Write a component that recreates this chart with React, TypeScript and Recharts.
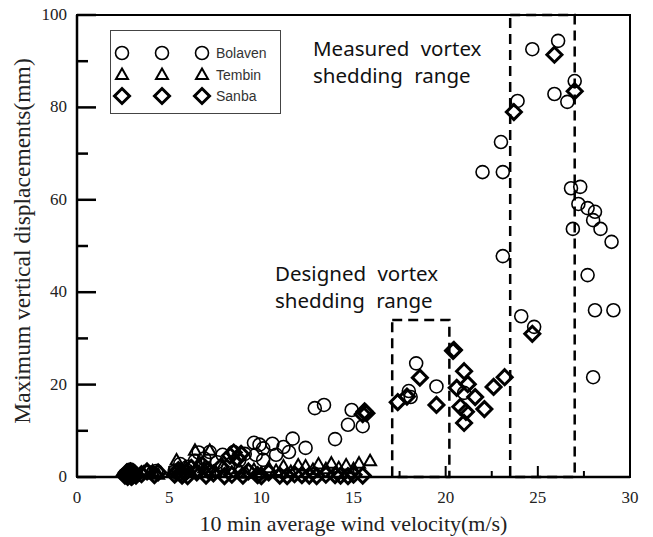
import React from 'react';
import {
  ScatterChart, Scatter, XAxis, YAxis, ReferenceArea, Legend,
} from 'recharts';

// wind velocity (m/s), max vertical displacement (mm)
const bolaven: [number, number][] = [
  [2.6, 0.5], [2.7, 0.8], [2.9, 1.6], [3.0, 1.2], [3.4, 0.5], [3.9, 1.0], [4.3, 1.3],
  [5.3, 1.2], [5.6, 2.8], [6.0, 2.2], [6.4, 3.5], [6.6, 5.3],
  [6.9, 4.0], [7.2, 5.4], [7.6, 3.2], [7.9, 4.8], [8.2, 2.0],
  [8.5, 5.4], [8.8, 3.6], [9.1, 5.0], [9.6, 7.4], [9.7, 4.8],
  [9.9, 7.0], [10.1, 6.2], [10.1, 3.7], [10.6, 7.2], [10.8, 4.8],
  [11.2, 6.5], [11.5, 5.4], [11.7, 8.3], [12.4, 6.3],
  [12.9, 14.9], [13.4, 15.6], [14.0, 8.2], [14.7, 11.3], [14.9, 14.5],
  [15.5, 11.0], [18.1, 17.3], [18.0, 18.6], [18.4, 24.6], [19.5, 19.6],
  [21.0, 18.2], [22.0, 66.0], [23.1, 66.0], [23.0, 72.5], [23.1, 47.8],
  [23.9, 81.4], [24.7, 92.6], [26.1, 94.4], [25.9, 82.9], [26.6, 81.2],
  [27.0, 85.7], [26.8, 62.5], [27.3, 62.8], [27.2, 59.1], [27.7, 58.2],
  [28.1, 57.4], [28.0, 55.6], [28.4, 53.7], [26.9, 53.7], [29.0, 50.9],
  [27.7, 43.7], [24.1, 34.8], [24.8, 32.5], [28.1, 36.1], [29.1, 36.1],
  [28.0, 21.6],
];

const tembin: [number, number][] = [
  [2.8, 0.3], [3.0, 0.6], [3.6, 1.0], [3.9, 0.8], [4.1, 1.3], [4.4, 0.6],
  [5.4, 3.7], [5.6, 1.5], [5.9, 2.2], [6.2, 1.0], [6.4, 5.8], [6.6, 3.0],
  [6.9, 2.0], [7.2, 5.8], [7.5, 1.3], [7.9, 2.4], [8.4, 1.0], [8.8, 1.8],
  [9.2, 0.8], [9.6, 1.6], [10.0, 0.8], [10.4, 2.0], [10.8, 1.4], [11.2, 2.4],
  [11.6, 1.2], [12.0, 2.6], [12.4, 2.4], [12.8, 1.6], [13.1, 2.8], [13.5, 1.8],
  [13.8, 3.0], [14.2, 2.0], [14.6, 2.6], [15.0, 1.8], [15.3, 3.0], [15.9, 3.5],
];

const sanba: [number, number][] = [
  [2.6, 0.3], [2.65, 0.6], [2.7, 1.0], [2.8, 0.5], [2.85, 0.9], [2.9, 1.2],
  [2.95, 0.0], [3.0, 0.2], [3.05, 0.5], [3.1, 0.8], [3.2, 0.3],
  [2.75, 0.0], [3.5, 0.6], [3.8, 1.2], [4.2, 0.4], [4.4, 1.0], [5.3, 0.5],
  [5.4, 1.0], [5.5, 1.5], [5.6, 0.8], [5.7, 0.3], [5.9, 1.0], [6.0, 0.2],
  [6.2, 2.0], [6.5, 1.0], [6.8, 2.6], [7.0, 0.3],
  [7.1, 1.5], [7.4, 0.8], [7.8, 2.2], [8.0, 0.2], [8.3, 4.6], [8.5, 5.3], [8.7, 4.0],
  [8.9, 5.0], [8.4, 0.5], [9.0, 0.3], [9.3, 1.2], [9.8, 0.4], [10.0, 0.2],
  [10.4, 1.0], [11.0, 0.3], [11.4, 0.2], [11.8, 0.6], [12.2, 0.4], [12.6, 0.3],
  [13.0, 0.2], [13.5, 0.5], [14.0, 0.4], [14.3, 0.3], [14.7, 0.2], [15.0, 0.5],
  [15.5, 0.3],
  [15.5, 13.6], [15.6, 14.2], [15.7, 13.8],
  [17.4, 16.2], [17.9, 17.4], [18.6, 21.5], [19.5, 15.6], [20.4, 27.3],
  [20.45, 27.5], [21.0, 22.9], [20.6, 19.3], [21.2, 20.1], [21.6, 17.3],
  [20.8, 15.2], [21.1, 14.1], [21.0, 11.7], [22.1, 14.7], [22.6, 19.5],
  [23.2, 21.6], [24.7, 31.0], [23.7, 79.0], [25.9, 91.4], [27.0, 83.5],
];

const seriesOrder = ['Bolaven', 'Tembin', 'Sanba'];

// designed / measured vortex shedding ranges: [x1, x2, yTop]
const designedRange = [17.1, 20.2, 34];
const measuredRange = [23.5, 27.0, 100];

const xTicks = [0, 2.5, 5, 7.5, 10, 12.5, 15, 17.5, 20, 22.5, 25, 27.5, 30];
const yTicks = [0, 10, 20, 30, 40, 50, 60, 70, 80, 90, 100];

const toPts = (arr: [number, number][]) => arr.map(([x, y]) => ({ x, y }));

const serif = '"Liberation Serif", "Times New Roman", serif';

const CircleMark = (p: any) => (
  <circle cx={p.cx} cy={p.cy} r={6.5} fill="none" stroke="#000" strokeWidth={1.6} />
);
const TriangleMark = (p: any) => (
  <path
    d={`M${p.cx},${p.cy - 6}L${p.cx + 6},${p.cy + 4.5}L${p.cx - 6},${p.cy + 4.5}Z`}
    fill="none" stroke="#000" strokeWidth={2} strokeLinejoin="miter"
  />
);
const DiamondMark = (p: any) => (
  <path
    d={`M${p.cx},${p.cy - 7.5}L${p.cx + 7.5},${p.cy}L${p.cx},${p.cy + 7.5}L${p.cx - 7.5},${p.cy}Z`}
    fill="none" stroke="#000" strokeWidth={3} strokeLinejoin="miter"
  />
);

const markFor: Record<string, (p: any) => React.ReactElement> = {
  Bolaven: CircleMark,
  Tembin: TriangleMark,
  Sanba: DiamondMark,
};

// inward ticks, labels only on major values
const XTick = (p: any) => {
  const v = p.payload.value;
  const major = v % 5 === 0;
  return (
    <g>
      <line x1={p.x} y1={p.y} x2={p.x} y2={p.y - (major ? 11 : 6)} stroke="#000" strokeWidth={2} />
      {major && (
        <text x={p.x} y={p.y + 26} textAnchor="middle" fontFamily={serif} fontSize={17} fill="#222">
          {v}
        </text>
      )}
    </g>
  );
};

const YTick = (p: any) => {
  const v = p.payload.value;
  const major = v % 20 === 0;
  return (
    <g>
      <line x1={p.x} y1={p.y} x2={p.x + (major ? 19 : 11)} y2={p.y} stroke="#000" strokeWidth={2.5} />
      {major && (
        <text x={p.x - 10} y={p.y + 5} textAnchor="end" fontFamily={serif} fontSize={17} fill="#222">
          {v}
        </text>
      )}
    </g>
  );
};

const LegendBox = (props: any) => {
  const items = [...(props.payload || [])].sort(
    (a: any, b: any) => seriesOrder.indexOf(a.value) - seriesOrder.indexOf(b.value),
  );
  return (
    <svg width={172} height={85} style={{ display: 'block' }}>
      <rect x={0.5} y={0.5} width={170} height={83} fill="#fff" stroke="#444" strokeWidth={1} />
      {items.map((it: any, i: number) => {
        const Mark = markFor[it.value];
        const cy = 23 + i * 21.5;
        return (
          <g key={it.value}>
            {[12, 52, 92].map((cx) => <Mark key={cx} cx={cx} cy={cy} />)}
            <text x={106} y={cy + 5} fontFamily='"Liberation Sans", Arial, sans-serif'
              fontSize={14} fill="#333">{it.value}</text>
          </g>
        );
      })}
    </svg>
  );
};

const noteStyle: React.CSSProperties = {
  position: 'absolute',
  fontFamily: '"Noto Sans", sans-serif',
  fontSize: 20.5,
  lineHeight: '27px',
  color: '#111',
  wordSpacing: 6,
  whiteSpace: 'pre',
};

export default function App() {
  return (
    <div style={{ position: 'absolute', left: 0, top: 0, width: 653, height: 537, background: '#fff' }}>
      <ScatterChart width={653} height={537} margin={{ top: 15, right: 23, bottom: 6, left: 11 }}>
        <XAxis
          type="number" dataKey="x" domain={[0, 30]} ticks={xTicks} interval={0}
          tickSize={0} tickMargin={0} tickLine={false} tick={<XTick />} height={54}
          axisLine={{ stroke: '#000', strokeWidth: 2.5 }}
          label={{ value: '10 min average wind velocity(m/s)', position: 'insideBottom', offset: 0,
            style: { fontFamily: serif, fontSize: 22, fill: '#222' } }}
        />
        <YAxis
          type="number" dataKey="y" domain={[0, 100]} ticks={yTicks} interval={0}
          tickSize={0} tickMargin={0} tickLine={false} tick={<YTick />} width={66}
          axisLine={{ stroke: '#000', strokeWidth: 2.5 }}
          label={{ value: 'Maximum vertical displacements(mm)', angle: -90, position: 'insideLeft', offset: 11,
            dy: -5, style: { fontFamily: serif, fontSize: 23.5, fill: '#222', textAnchor: 'middle' } }}
        />
        {/* plot frame (top / right edges) */}
        <ReferenceArea x1={0} x2={30} y1={0} y2={100} fill="none" stroke="#000" strokeWidth={2} />
        <ReferenceArea x1={designedRange[0]} x2={designedRange[1]} y1={0} y2={designedRange[2]}
          fill="none" stroke="#000" strokeWidth={2.5} strokeDasharray="10 6" />
        <ReferenceArea x1={measuredRange[0]} x2={measuredRange[1]} y1={0} y2={measuredRange[2]}
          fill="none" stroke="#000" strokeWidth={2.5} strokeDasharray="10 6" />
        <Legend content={<LegendBox />} layout="horizontal" verticalAlign="middle" align="center"
          wrapperStyle={{ position: 'absolute', left: 110, top: 30, width: 172, height: 85 }} />
        <Scatter name="Bolaven" data={toPts(bolaven)} shape={CircleMark} isAnimationActive={false} />
        <Scatter name="Tembin" data={toPts(tembin)} shape={TriangleMark} isAnimationActive={false} />
        <Scatter name="Sanba" data={toPts(sanba)} shape={DiamondMark} isAnimationActive={false} />
      </ScatterChart>
      <div style={{ ...noteStyle, left: 313, top: 35 }}>{'Measured vortex\nshedding range'}</div>
      <div style={{ ...noteStyle, left: 275, top: 260 }}>{'Designed vortex\nshedding range'}</div>
    </div>
  );
}
